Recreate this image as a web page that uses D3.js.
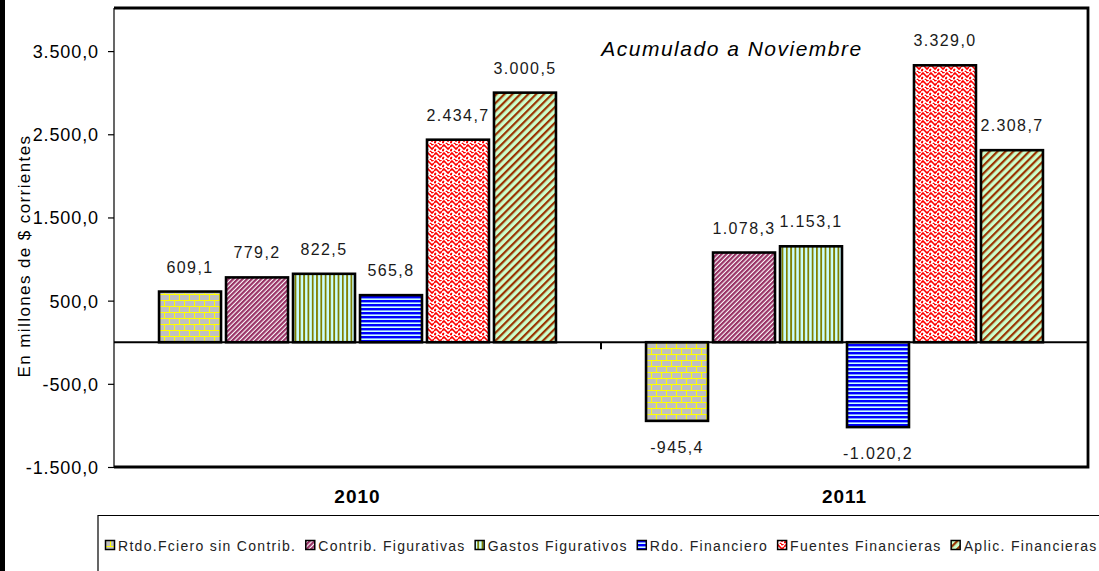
<!DOCTYPE html>
<html><head><meta charset="utf-8">
<script src="https://cdn.jsdelivr.net/npm/d3@7"></script>
<style>
html,body{margin:0;padding:0;background:#fff;}
svg{display:block;font-family:"Liberation Sans",Arial,sans-serif;}
</style></head>
<body>
<svg id="c" width="1099" height="571"></svg>
<script>
// ---- data ----
const categories = ["2010", "2011"];
const seriesNames = ["Rtdo.Fciero sin Contrib.", "Contrib. Figurativas", "Gastos Figurativos", "Rdo. Financiero", "Fuentes Financieras", "Aplic. Financieras"];
const values2010 = [609.1, 779.2, 822.5, 565.8, 2434.7, 3000.5];
const values2011 = [-945.4, 1078.3, 1153.1, -1020.2, 3329.0, 2308.7];
const yTicks = [-1500, -500, 500, 1500, 2500, 3500];
const titleText = "Acumulado a Noviembre";
const yTitle = "En millones de $ corrientes";

const valuesByCat = {"2010": values2010, "2011": values2011};

const loc = d3.formatLocale({decimal: ",", thousands: ".", grouping: [3], currency: ["$", ""], minus: "-"});
const fmt = loc.format(",.1f");

const svg = d3.select("#c");
const W = 1099, H = 571;
const plot = {left: 114, right: 1088, top: 8, bottom: 467};

// left black strip
svg.append("rect").attr("x", 0).attr("y", 0).attr("width", 5).attr("height", H).attr("fill", "#000");

// ---- patterns ----
const defs = svg.append("defs");
function pat(id, w, h, transform) {
  const p = defs.append("pattern").attr("id", id).attr("patternUnits", "userSpaceOnUse")
    .attr("width", w).attr("height", h);
  if (transform) p.attr("patternTransform", transform);
  return p;
}
// 0 brick
let p = pat("p0", 10, 12);
p.append("rect").attr("width", 10).attr("height", 12).attr("fill", "#c0c0c0");
p.append("path").attr("d", "M0,0.5H10M0,6.5H10M0.5,0V6.5M5.5,6.5V12").attr("stroke", "#ffff00").attr("stroke-width", 1.1).attr("fill", "none");
// 1 magenta diagonal
p = pat("p1", 3.3, 6, "rotate(45)");
p.append("rect").attr("width", 3.3).attr("height", 6).attr("fill", "#ffffff");
p.append("rect").attr("width", 2.2).attr("height", 6).attr("fill", "#993366");
// 2 olive vertical
p = pat("p2", 4.3, 4);
p.append("rect").attr("width", 4.3).attr("height", 4).attr("fill", "#ccffff");
p.append("rect").attr("width", 1.8).attr("height", 4).attr("fill", "#808000");
// 3 blue horizontal
p = pat("p3", 4, 4);
p.append("rect").attr("width", 4).attr("height", 4).attr("fill", "#ccffff");
p.append("rect").attr("width", 4).attr("height", 2.4).attr("fill", "#0000ff");
// 4 red wave
p = pat("p4", 8, 8);
p.append("rect").attr("width", 8).attr("height", 8).attr("fill", "#ffffff");
p.append("path").attr("d", "M0,3 L2,1 L4,3 L6,5 L8,3 M0,7 L2,5 M6,1 L8,-1 M4,7 L6,9 M1,6.5h1 M5,0.5h1").attr("stroke", "#ff0000").attr("stroke-width", 1.7).attr("fill", "none");
// 5 brown diagonal on green
p = pat("p5", 5.6, 6, "rotate(45)");
p.append("rect").attr("width", 5.6).attr("height", 6).attr("fill", "#ccffcc");
p.append("rect").attr("width", 2.2).attr("height", 6).attr("fill", "#993300");

// ---- scales ----
const y = d3.scaleLinear().domain([-1500, 4000]).range([plot.bottom, plot.top + 1.5]);
const x0 = d3.scaleBand().domain(categories).range([plot.left, plot.right]).padding(0);
const gap = x0.bandwidth() * 0.0925;
const x1 = d3.scaleBand().domain(seriesNames).range([gap, x0.bandwidth() - gap]).paddingInner(0.075).paddingOuter(0);

// ---- plot frame ----
svg.append("line").attr("x1", plot.left).attr("x2", plot.left).attr("y1", plot.top).attr("y2", plot.bottom)
  .attr("stroke", "#000").attr("stroke-width", 1.2);
svg.append("path").attr("d", `M${plot.left},${plot.top}H${plot.right}V${plot.bottom}H${plot.left}`)
  .attr("fill", "none").attr("stroke", "#000").attr("stroke-width", 2.8);

// ---- y axis ----
const yAxis = d3.axisLeft(y).tickValues(yTicks).tickFormat(fmt).tickSize(6).tickPadding(9);
const gy = svg.append("g").attr("transform", `translate(${plot.left},0)`).call(yAxis);
gy.select(".domain").remove();
gy.selectAll(".tick line").attr("stroke", "#000").attr("stroke-width", 1.2);
gy.selectAll(".tick text").attr("font-size", 18).attr("letter-spacing", 0.9).attr("fill", "#000")
  .attr("font-family", "Liberation Sans, Arial, sans-serif").attr("dy", "0.36em");

// y title
svg.append("text").attr("transform", `translate(24,${256}) rotate(-90)`).attr("text-anchor", "middle")
  .attr("dominant-baseline", "central").attr("font-size", 17).attr("letter-spacing", 1.4).attr("fill", "#000").text(yTitle);

// ---- bars ----
const groups = svg.selectAll("g.cat").data(categories).join("g").attr("class", "cat")
  .attr("transform", d => `translate(${x0(d)},0)`);
groups.selectAll("rect").data(c => valuesByCat[c].map((v, i) => ({v, i, name: seriesNames[i]}))).join("rect")
  .attr("x", d => x1(d.name))
  .attr("width", x1.bandwidth())
  .attr("y", d => y(Math.max(0, d.v)))
  .attr("height", d => Math.abs(y(d.v) - y(0)))
  .attr("fill", d => `url(#p${d.i})`)
  .attr("stroke", "#000").attr("stroke-width", 2.6);

// value labels
groups.selectAll("text.val").data(c => valuesByCat[c].map((v, i) => ({v, i, name: seriesNames[i]}))).join("text")
  .attr("class", "val")
  .attr("x", d => x1(d.name) + x1.bandwidth() / 2)
  .attr("y", d => d.v >= 0 ? y(d.v) - 19 : y(d.v) + 32)
  .attr("text-anchor", "middle").attr("font-size", 16).attr("letter-spacing", 1.4).attr("fill", "#1a1a1a")
  .text(d => fmt(d.v));

// ---- category axis at zero ----
svg.append("line").attr("x1", plot.left).attr("x2", plot.right).attr("y1", y(0)).attr("y2", y(0))
  .attr("stroke", "#000").attr("stroke-width", 2.2);
// boundary tick between categories
svg.selectAll("line.ctick").data(categories.slice(1)).join("line").attr("class", "ctick")
  .attr("x1", d => x0(d)).attr("x2", d => x0(d)).attr("y1", y(0)).attr("y2", y(0) + 7)
  .attr("stroke", "#000").attr("stroke-width", 2);
// category labels below plot
svg.selectAll("text.cat").data(categories).join("text").attr("class", "cat")
  .attr("x", d => x0(d) + x0.bandwidth() / 2).attr("y", 503)
  .attr("text-anchor", "middle").attr("font-size", 19).attr("font-weight", "bold").attr("letter-spacing", 1)
  .attr("fill", "#000").text(d => d);

// title
svg.append("text").attr("x", 732).attr("y", 56).attr("text-anchor", "middle")
  .attr("font-size", 21).attr("font-style", "italic").attr("letter-spacing", 1.5).attr("fill", "#000").text(titleText);

// ---- legend ----
svg.append("path").attr("d", `M98,${H}V515.5H${W}`).attr("fill", "none").attr("stroke", "#000").attr("stroke-width", 1.2);
const lg = svg.append("g");
let lx = 105;
seriesNames.forEach((name, i) => {
  lg.append("rect").attr("x", lx + 0.5).attr("y", 540.5).attr("width", 9).attr("height", 9)
    .attr("fill", `url(#p${i})`).attr("stroke", "#000").attr("stroke-width", 1.5);
  const t = lg.append("text").attr("x", lx + 13).attr("y", 551).attr("font-size", 14).attr("letter-spacing", 1.3)
    .attr("fill", "#222").text(name);
  lx += 13 + t.node().getComputedTextLength() + 9;
});
</script>
</body></html>
